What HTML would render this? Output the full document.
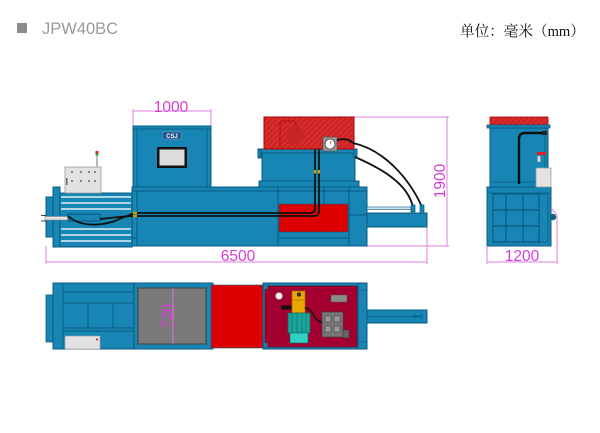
<!DOCTYPE html>
<html><head><meta charset="utf-8"><style>
html,body{margin:0;padding:0;background:#fff;}
svg{display:block;}
</style></head><body>
<svg width="600" height="433" viewBox="0 0 600 433" xmlns="http://www.w3.org/2000/svg">
<defs>
<pattern id="h" width="4" height="4" patternUnits="userSpaceOnUse" patternTransform="rotate(45)">
<rect width="4" height="4" fill="#d92b2b"/>
<line x1="0" y1="0" x2="0" y2="4" stroke="#b01818" stroke-width="1.3"/>
</pattern>
</defs>

<!-- header -->
<rect x="17" y="23" width="10" height="10" fill="#8c8c8c"/>
<text x="42" y="34" font-family="Liberation Sans, sans-serif" font-size="16.5" fill="#9a9a9a">JPW40BC</text>
<text x="460" y="36" font-family="'Liberation Serif','Noto Serif CJK SC',serif" font-size="14.6" fill="#111">单位：毫米（mm）</text>

<!-- ============ FRONT VIEW ============ -->
<g stroke="#e27ee2" stroke-width="1" fill="none">
  <line x1="133" y1="111" x2="211" y2="111"/>
  <line x1="133" y1="109" x2="133" y2="126"/>
  <line x1="211" y1="109" x2="211" y2="126"/>
  <line x1="447" y1="117" x2="447" y2="246"/>
  <line x1="354" y1="117" x2="449" y2="117"/>
  <line x1="367" y1="246" x2="449" y2="246"/>
  <line x1="46" y1="262" x2="427" y2="262"/>
  <line x1="46" y1="246" x2="46" y2="264"/>
  <line x1="427" y1="227" x2="427" y2="264"/>
</g>
<g font-family="Liberation Sans, sans-serif" fill="#d63cd6" font-size="15.5" text-anchor="middle">
  <text x="171" y="112">1000</text>
  <text x="238" y="261">6500</text>
  <text transform="translate(445,181) rotate(-90)">1900</text>
</g>

<!-- cylinder section -->
<g stroke="#0b5a80" stroke-width="1">
  <rect x="46" y="197" width="7" height="40" fill="#1786b5"/>
  <rect x="53" y="187" width="7" height="60" fill="#1786b5"/>
  <rect x="60" y="193" width="72" height="54" fill="#1786b5"/>
</g>
<g stroke="#e4f1f7" stroke-width="1.6">
  <line x1="61" y1="197" x2="131" y2="197"/>
  <line x1="61" y1="203" x2="131" y2="203"/>
  <line x1="61" y1="209" x2="131" y2="209"/>
  <line x1="61" y1="229" x2="131" y2="229"/>
  <line x1="61" y1="235" x2="131" y2="235"/>
  <line x1="61" y1="241" x2="131" y2="241"/>
</g>
<rect x="45" y="216.5" width="23" height="3.5" fill="#e2e2e2" stroke="#888" stroke-width="0.6"/>
<line x1="41" y1="215.5" x2="47" y2="215.5" stroke="#444"/>
<line x1="41" y1="221" x2="47" y2="221" stroke="#444"/>
<rect x="68" y="214" width="32" height="7" fill="none" stroke="#0b4a70" stroke-width="0.8"/>

<!-- main body -->
<rect x="132" y="187" width="235" height="59" fill="#1786b5" stroke="#0b5a80"/>
<g stroke="#0b5a80" stroke-width="1">
  <line x1="132" y1="191" x2="367" y2="191"/>
  <line x1="137" y1="191" x2="137" y2="246"/>
  <line x1="278" y1="187" x2="278" y2="246"/>
  <line x1="349" y1="187" x2="349" y2="246"/>
  <line x1="324" y1="187" x2="324" y2="204"/>
  <line x1="278" y1="238" x2="349" y2="238"/>
  <line x1="349" y1="215" x2="367" y2="215"/>
  <line x1="132" y1="238" x2="137" y2="238"/>
</g>
<rect x="279" y="204" width="69" height="28" fill="#dd0000" stroke="#0b5a80" stroke-width="0.6"/>

<!-- tank -->
<g stroke="#0b5a80" stroke-width="1" fill="#1786b5">
  <rect x="259" y="181" width="100" height="6"/>
  <rect x="262" y="153" width="93" height="28"/>
  <rect x="258" y="149" width="99" height="4"/>
  <rect x="258" y="149" width="3" height="9"/>
  <rect x="354" y="149" width="3" height="9"/>
</g>
<rect x="264" y="117" width="90" height="32" fill="url(#h)" stroke="#b00000" stroke-width="1"/>
<path d="M280,147 V125 Q280,121 284,121 H292 Q296,121 296,125 V128" fill="none" stroke="#b01818" stroke-width="1.2"/>
<circle cx="295" cy="135" r="9" fill="#c02525" opacity="0.8"/>
<rect x="323" y="137" width="14" height="14" fill="#9a9a9a" stroke="#555" stroke-width="0.8"/>
<circle cx="330" cy="144" r="5" fill="#fff" stroke="#444" stroke-width="0.8"/>
<line x1="330" y1="144" x2="331" y2="141" stroke="#333" stroke-width="0.6"/>

<!-- control cabinet -->
<rect x="133" y="126" width="78" height="61" fill="#1786b5" stroke="#0b5a80"/>
<g stroke="#0b5a80" stroke-width="0.8">
  <line x1="133" y1="129" x2="211" y2="129"/>
  <line x1="137" y1="129" x2="137" y2="187"/>
  <line x1="207" y1="129" x2="207" y2="187"/>
</g>
<rect x="163" y="132" width="18" height="7" fill="#1d4f8c" stroke="#aac" stroke-width="0.4"/>
<text x="172" y="138" font-family="Liberation Sans, sans-serif" font-size="6" font-weight="bold" fill="#fff" text-anchor="middle">CSJ</text>
<rect x="157" y="147" width="30" height="21" fill="#111"/>
<rect x="159.5" y="149.5" width="25" height="16" fill="#dcdcdc"/>

<!-- white panel -->
<line x1="97" y1="152" x2="97" y2="167" stroke="#777" stroke-width="1"/>
<rect x="95.5" y="151" width="3" height="2.5" fill="#d22"/>
<rect x="95.5" y="153.5" width="3" height="2" fill="#3a3"/>
<rect x="65" y="167" width="36" height="26" fill="#e2e2e2" stroke="#9a9a9a" stroke-width="0.8"/>
<g fill="#444">
  <circle cx="72" cy="172" r="0.9"/><circle cx="81" cy="172" r="0.9"/><circle cx="89" cy="172" r="0.9"/><circle cx="95" cy="172" r="0.9"/>
  <circle cx="72" cy="181" r="0.9"/><circle cx="81" cy="181" r="0.9"/><circle cx="89" cy="181" r="0.9"/><circle cx="95" cy="181" r="0.9"/>
</g>
<rect x="66" y="178" width="1.5" height="7" fill="#666"/>

<!-- ram -->
<rect x="367" y="207" width="46" height="2.5" fill="#cfe4ee" stroke="#0b5a80" stroke-width="0.6"/>
<rect x="367" y="213" width="60" height="14" fill="#1786b5" stroke="#0b5a80"/>

<!-- hoses -->
<g fill="none" stroke="#111" stroke-width="1.8">
  <path d="M315,149 V208 Q315,213 310,213 H135"/>
  <path d="M319,149 V211 Q319,216 314,216 H135"/>
  <path d="M68,216 C80,227 100,226 115,221 C122,218 128,215 136,213"/>
  <path d="M100,219 C112,218 124,216 136,216"/>
  <path d="M337,140 C345,138 350,140 353,143 C385,150 410,180 422,207"/>
  <path d="M355,157 C385,170 408,185 413,207"/>
</g>
<g fill="#c9a000">
  <rect x="133" y="211.8" width="4" height="2.4"/>
  <rect x="133" y="214.8" width="4" height="2.4"/>
  <rect x="313.8" y="170" width="2.4" height="3.5"/>
  <rect x="317.8" y="170" width="2.4" height="3.5"/>
</g>
<g fill="#1786b5" stroke="#0b5a80" stroke-width="0.7">
  <rect x="411" y="205" width="4" height="7"/>
  <rect x="420" y="205" width="4" height="7"/>
</g>

<!-- ============ SIDE VIEW ============ -->
<rect x="490" y="117" width="58" height="8" fill="url(#h)" stroke="#b00000" stroke-width="0.8"/>
<rect x="487" y="125" width="63" height="3" fill="#1786b5" stroke="#0b5a80" stroke-width="0.8"/>
<rect x="490" y="128" width="58" height="59" fill="#1786b5" stroke="#0b5a80"/>
<g stroke="#0b5a80" stroke-width="0.8">
  <line x1="545" y1="128" x2="545" y2="182"/>
  <line x1="490" y1="182" x2="548" y2="182"/>
</g>
<rect x="487" y="187" width="64" height="59" fill="#1786b5" stroke="#0b5a80"/>
<line x1="487" y1="193" x2="551" y2="193" stroke="#0b5a80" stroke-width="0.8"/>
<rect x="493" y="194" width="46" height="48" fill="#1786b5" stroke="#0b5a80" stroke-width="1.2"/>
<g stroke="#0b5a80" stroke-width="1.2">
  <line x1="506" y1="194" x2="506" y2="242"/>
  <line x1="523" y1="194" x2="523" y2="242"/>
  <line x1="493" y1="210" x2="539" y2="210"/>
  <line x1="493" y1="226" x2="539" y2="226"/>
</g>
<rect x="539" y="194" width="9" height="48" fill="none" stroke="#0b5a80" stroke-width="0.8"/>
<rect x="536" y="168" width="15" height="19" fill="#e2e2e2" stroke="#999" stroke-width="0.7"/>
<rect x="537" y="152" width="9" height="3" fill="#d22"/>
<rect x="537.5" y="156" width="3" height="6" fill="#ddd" stroke="#888" stroke-width="0.4"/>
<path d="M519,184 V139 Q519,133 525,133 H544" fill="none" stroke="#111" stroke-width="2.4"/>
<rect x="542" y="131" width="5" height="4" fill="#222"/>
<circle cx="553" cy="217" r="3" fill="#0e5f86" stroke="#063" stroke-width="0.5"/>
<g stroke="#e27ee2" stroke-width="1" fill="none">
  <line x1="487" y1="262" x2="557" y2="262"/>
  <line x1="487" y1="246" x2="487" y2="264"/>
  <path d="M551,208 L557,215 V264"/>
</g>
<text x="522" y="261" font-family="Liberation Sans, sans-serif" font-size="15.5" fill="#d63cd6" text-anchor="middle">1200</text>

<!-- ============ TOP VIEW ============ -->
<rect x="46" y="295" width="7" height="47" fill="#1786b5" stroke="#0b5a80" stroke-width="0.8"/>
<rect x="53" y="283" width="81" height="66" fill="#1786b5" stroke="#0b5a80"/>
<g stroke="#0b5a80" stroke-width="0.9">
  <line x1="63" y1="283" x2="63" y2="349"/>
  <line x1="63" y1="292" x2="134" y2="292"/>
  <line x1="63" y1="303" x2="134" y2="303"/>
  <line x1="63" y1="328" x2="134" y2="328"/>
  <line x1="63" y1="331" x2="134" y2="331"/>
  <line x1="88" y1="303" x2="88" y2="328"/>
  <line x1="113" y1="303" x2="113" y2="328"/>
</g>
<rect x="65" y="336" width="35" height="13" fill="#e2e2e2" stroke="#999" stroke-width="0.6"/>
<circle cx="97" cy="339.5" r="1" fill="#c00"/>

<rect x="134" y="283" width="79" height="66" fill="#1786b5" stroke="#0b5a80"/>
<rect x="138" y="288" width="68" height="56" fill="#7a7a7a" stroke="#4a4a4a" stroke-width="1.2"/>
<line x1="173" y1="288" x2="173" y2="344" stroke="#e86ae8" stroke-width="1"/>
<text transform="translate(172,316) rotate(-90)" font-family="Liberation Serif, serif" font-size="16" fill="#f030f0" text-anchor="middle">720</text>

<rect x="211" y="285" width="52" height="63" fill="#dd0000" stroke="#0b5a80" stroke-width="0.6"/>

<rect x="263" y="283" width="104" height="66" fill="#1786b5" stroke="#0b5a80"/>
<rect x="265" y="286" width="92" height="61" fill="#a3002f" stroke="#5a0018" stroke-width="0.6"/>
<line x1="358" y1="283" x2="358" y2="349" stroke="#0b5a80"/>
<line x1="358" y1="290" x2="367" y2="290" stroke="#0b5a80" stroke-width="0.6"/>
<line x1="358" y1="342" x2="367" y2="342" stroke="#0b5a80" stroke-width="0.6"/>
<rect x="263.5" y="285" width="4" height="4" fill="#1786b5" stroke="#0b5a80" stroke-width="0.5"/>
<rect x="263.5" y="343" width="4" height="4" fill="#1786b5" stroke="#0b5a80" stroke-width="0.5"/>

<!-- motor / pump -->
<circle cx="279" cy="296" r="3.5" fill="#eee" stroke="#999" stroke-width="0.6"/>
<rect x="281" y="305.5" width="13" height="4" rx="2" fill="#111"/>
<rect x="292" y="291" width="13" height="22" fill="#e8a800" stroke="#a86a00" stroke-width="0.7"/>
<line x1="292" y1="300" x2="305" y2="300" stroke="#a86a00" stroke-width="0.6"/>
<circle cx="299" cy="294.5" r="2.2" fill="#333"/>
<rect x="288" y="313" width="22" height="20" fill="#1aa59c" stroke="#0d6a64" stroke-width="0.7"/>
<g stroke="#0d6a64" stroke-width="0.6">
  <line x1="292" y1="313" x2="292" y2="333"/>
  <line x1="297" y1="313" x2="297" y2="333"/>
  <line x1="302" y1="313" x2="302" y2="333"/>
  <line x1="306" y1="313" x2="306" y2="333"/>
</g>
<rect x="290" y="333" width="18" height="10" fill="#2fd0c6" stroke="#0d6a64" stroke-width="0.6"/>
<path d="M305,308 C314,309 314,322 322,322" fill="none" stroke="#111" stroke-width="1.4"/>
<rect x="322" y="312" width="21" height="25" fill="#777" stroke="#444" stroke-width="0.7"/>
<g stroke="#444" stroke-width="0.6" fill="#999">
  <rect x="325" y="316" width="6" height="6"/>
  <rect x="334" y="316" width="6" height="6"/>
  <rect x="325" y="326" width="6" height="6"/>
  <rect x="334" y="326" width="6" height="6"/>
</g>
<rect x="343" y="330" width="6" height="8" fill="#666" stroke="#333" stroke-width="0.5"/>
<rect x="331" y="295" width="16" height="7" fill="#8a8a8a" stroke="#555" stroke-width="0.5"/>

<!-- top ram -->
<rect x="367" y="310" width="60" height="13" fill="#1786b5" stroke="#0b5a80"/>
<line x1="367" y1="316.5" x2="421" y2="316.5" stroke="#0b5a80" stroke-width="0.7"/>
<circle cx="415" cy="316.5" r="1.5" fill="none" stroke="#0b5a80" stroke-width="0.7"/>
<circle cx="421" cy="316.5" r="1.8" fill="none" stroke="#0b5a80" stroke-width="0.7"/>
</svg>
</body></html>
